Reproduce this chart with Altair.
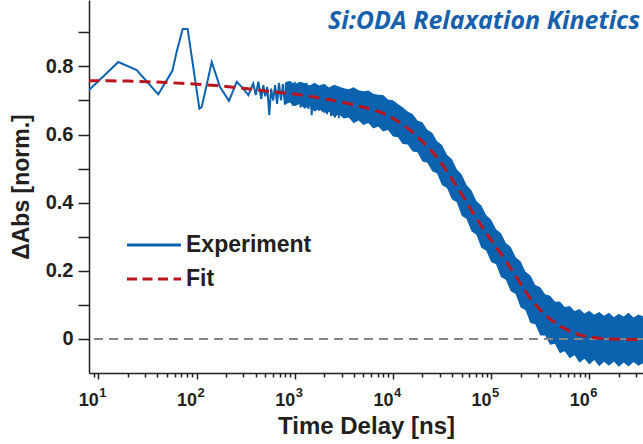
import altair as alt
import pandas as pd

BLUE = "#0b63b0"
RED = "#b8161c"
INK = "#231f20"
TITLE = "Si:ODA Relaxation Kinetics"

# Experiment: sparse early trace and spiky region (time in ns, normalized ΔAbs)
early_t = [8.0, 16.0, 24.6, 40.8, 56.8, 62.8, 72.3, 81.2, 107, 113, 143, 173, 214, 257,
           288, 337, 378, 401, 426, 457, 479, 501, 525, 551, 575, 603, 631, 661, 692,
           724, 759, 794, 832, 871, 912, 955, 1000, 1047, 1096, 1148, 1202, 1259, 1318,
           1380, 1445, 1489, 1549, 1622, 1698, 1778, 1862, 1950, 2042, 2138, 2239, 2344,
           2455, 2570, 2692, 2818]
early_y = [0.730, 0.813, 0.789, 0.718, 0.787, 0.843, 0.910, 0.910, 0.676, 0.681, 0.813,
           0.740, 0.699, 0.755, 0.740, 0.716, 0.750, 0.716, 0.755, 0.705, 0.745, 0.712,
           0.740, 0.657, 0.735, 0.700, 0.745, 0.690, 0.752, 0.700, 0.748, 0.688, 0.755,
           0.700, 0.745, 0.685, 0.755, 0.690, 0.750, 0.680, 0.748, 0.690, 0.752, 0.675,
           0.745, 0.657, 0.745, 0.685, 0.740, 0.670, 0.742, 0.668, 0.738, 0.660, 0.735,
           0.655, 0.735, 0.650, 0.732, 0.648]

# Experiment: dense noisy region, upper and lower envelope of the trace
band_t = [794.3, 891.3, 1000, 1122, 1259, 1413, 1585, 1778, 1995, 2239, 2512, 2818, 3162,
          3548, 3981, 4467, 5012, 5623, 6310, 7079, 7943, 8913,
          10000, 11220, 12590, 14130, 15850, 17780, 19950, 22390, 25120, 28180, 31620,
          35480, 39810, 44670, 50120, 56230, 63100, 70790, 79430, 89130,
          100000, 112200, 125900, 141300, 158500, 177800, 199500, 223900, 251200, 281800,
          316200, 354800, 398100, 446700, 501200, 562300, 631000, 707900, 794300, 891300,
          1000000, 1122000, 1259000, 1413000, 1585000, 1778000, 1995000, 2239000, 2512000,
          2818000, 3162000, 3548000, 3981000]
band_hi = [0.752, 0.758, 0.748, 0.755, 0.751, 0.743, 0.752, 0.744, 0.749, 0.738, 0.746,
           0.741, 0.736, 0.733, 0.739, 0.730, 0.727, 0.729, 0.720, 0.717, 0.716, 0.703,
           0.701, 0.690, 0.680, 0.668, 0.660, 0.641, 0.636, 0.614, 0.605, 0.580, 0.569,
           0.541, 0.528, 0.498, 0.483, 0.452, 0.436, 0.405, 0.392, 0.363,
           0.350, 0.322, 0.310, 0.282, 0.270, 0.240, 0.228, 0.197, 0.186, 0.158, 0.152,
           0.131, 0.127, 0.109, 0.110, 0.094, 0.097, 0.082, 0.088, 0.075,
           0.083, 0.071, 0.079, 0.068, 0.077, 0.064, 0.074, 0.066, 0.077, 0.063, 0.072,
           0.066, 0.070]
band_lo = [0.688, 0.694, 0.683, 0.690, 0.676, 0.684, 0.668, 0.674, 0.663, 0.667, 0.652,
           0.659, 0.647, 0.650, 0.633, 0.641, 0.628, 0.634, 0.618, 0.624, 0.609, 0.613,
           0.594, 0.592, 0.572, 0.571, 0.550, 0.548, 0.521, 0.517, 0.492, 0.486, 0.451,
           0.443, 0.410, 0.401, 0.362, 0.352, 0.316, 0.306, 0.268, 0.259,
           0.226, 0.219, 0.182, 0.174, 0.140, 0.132, 0.092, 0.084, 0.047, 0.043, 0.010,
           0.010, -0.017, -0.014, -0.042, -0.036, -0.057, -0.048, -0.070, -0.058,
           -0.075, -0.062, -0.080, -0.067, -0.079, -0.066, -0.082, -0.069, -0.081, -0.068,
           -0.079, -0.071, -0.078]

# Fit curve
fit_t = [7.943, 10, 12.59, 15.85, 19.95, 25.12, 31.62, 39.81, 50.12, 63.10, 79.43,
         100, 125.9, 158.5, 199.5, 251.2, 316.2, 398.1, 501.2, 631.0, 794.3,
         1000, 1259, 1585, 1995, 2512, 3162, 3981, 5012, 6310, 7943,
         10000, 12590, 15850, 19950, 25120, 31620, 39810, 50120, 63100, 79430,
         100000, 125900, 158500, 199500, 251200, 316200, 398100, 501200, 631000, 794300,
         1000000, 1259000, 1585000, 1995000, 2512000, 3162000, 3981000]
fit_y = [0.758, 0.758, 0.758, 0.757, 0.757, 0.756, 0.755, 0.754, 0.753, 0.751, 0.750,
         0.748, 0.746, 0.744, 0.741, 0.738, 0.735, 0.732, 0.728, 0.725, 0.722,
         0.719, 0.715, 0.710, 0.705, 0.700, 0.694, 0.688, 0.680, 0.673, 0.663,
         0.648, 0.630, 0.607, 0.580, 0.550, 0.513, 0.470, 0.425, 0.378, 0.333,
         0.290, 0.250, 0.207, 0.163, 0.118, 0.085, 0.058, 0.038, 0.023, 0.012,
         0.006, 0.002, 0.000, -0.001, -0.002, -0.002, -0.002]

# Axis ticks and decade exponents
x_ticks = [8, 9, 10, 20, 30, 40, 50, 60, 70, 80, 90, 100, 200, 300, 400, 500, 600, 700,
           800, 900, 1000, 2000, 3000, 4000, 5000, 6000, 7000, 8000, 9000, 10000, 20000,
           30000, 40000, 50000, 60000, 70000, 80000, 90000, 100000, 200000, 300000,
           400000, 500000, 600000, 700000, 800000, 900000, 1000000, 2000000, 3000000]
decades = [10, 100, 1000, 10000, 100000, 1000000]
exponents = ["1", "2", "3", "4", "5", "6"]
y_ticks = [0, 0.1, 0.2, 0.3, 0.4, 0.5, 0.6, 0.7, 0.8, 0.9]

early_df = pd.DataFrame({"t": early_t, "v": early_y})
band_df = pd.DataFrame({"t": band_t, "hi": band_hi, "lo": band_lo})
fit_df = pd.DataFrame({"t": fit_t, "v": fit_y})
exp_df = pd.DataFrame({"t": decades, "e": exponents})

x_scale = alt.Scale(type="log", domain=[8.04, 3.52e6])
y_scale = alt.Scale(domain=[-0.1, 0.995])

major_test = "indexof([10, 100, 1000, 10000, 100000, 1000000], datum.value) >= 0"

x_axis = alt.Axis(
    values=x_ticks, labelExpr=f"{major_test} ? '10' : ''", title="Time Delay [ns]",
    tickSize={"condition": {"test": major_test, "value": 6}, "value": 4},
    tickColor=INK, tickWidth=1.5, domainColor=INK, domainWidth=1.5,
    labelFont="Liberation Sans", labelFontSize=18, labelFontWeight="bold",
    labelColor=INK, labelPadding=12, labelOverlap=False, labelFlush=False,
    labelAlign="right",
    titleFont="Liberation Sans", titleFontSize=24, titleFontWeight="bold",
    titleColor=INK, titlePadding=5, grid=False,
)
y_axis = alt.Axis(
    values=y_ticks, title="ΔAbs [norm.]",
    labelExpr="datum.value == 0 ? '0' : (round(datum.value * 10) % 2 == 0 ? format(datum.value, '.1f') : '')",
    tickSize=11, tickColor=INK, tickWidth=1.5, domainColor=INK, domainWidth=1.5,
    labelFont="Liberation Sans", labelFontSize=20, labelFontWeight="bold",
    labelColor=INK, labelPadding=5, labelOverlap=False,
    titleFont="Liberation Sans", titleFontSize=23, titleFontWeight="bold",
    titleColor=INK, titlePadding=12, grid=False,
)

band = alt.Chart(band_df).mark_area(color=BLUE, opacity=1, clip=True).encode(
    x=alt.X("t:Q", scale=x_scale, axis=x_axis),
    y=alt.Y("hi:Q", scale=y_scale, axis=y_axis),
    y2="lo:Q",
)

early = alt.Chart(early_df).mark_line(color=BLUE, strokeWidth=2, clip=True).encode(
    x=alt.X("t:Q", scale=x_scale),
    y=alt.Y("v:Q", scale=y_scale),
)

zero = alt.Chart(pd.DataFrame({"v": [0]})).mark_rule(
    color="#858585", strokeWidth=2, strokeDash=[9, 6]
).encode(y=alt.Y("v:Q", scale=y_scale))

fit = alt.Chart(fit_df).mark_line(
    color=RED, strokeWidth=3, strokeDash=[11, 6], clip=True
).encode(
    x=alt.X("t:Q", scale=x_scale),
    y=alt.Y("v:Q", scale=y_scale),
)

# decade exponents drawn next to the "10" tick labels
exps = alt.Chart(exp_df).mark_text(
    align="left", baseline="alphabetic", dx=1, font="Liberation Sans",
    fontSize=13, fontWeight="bold", color=INK,
).encode(x=alt.X("t:Q", scale=x_scale), y=alt.value(397), text="e:N")


def legend_entry(label, colour, dash, ypos):
    key = alt.Chart().mark_rule(color=colour, strokeWidth=3, strokeDash=dash).encode(
        x=alt.value(38), x2=alt.value(92), y=alt.value(ypos))
    text = alt.Chart(pd.DataFrame({"label": [label]})).mark_text(
        align="left", baseline="middle", font="Liberation Sans", fontSize=23,
        fontWeight="bold", color=INK,
    ).encode(x=alt.value(97), y=alt.value(ypos), text="label:N")
    return key + text


legend_exp = legend_entry("Experiment", BLUE, [1, 0], 245)
legend_fit = legend_entry("Fit", RED, [10, 5.5], 279)

heading = alt.Chart(pd.DataFrame({"label": [TITLE]})).mark_text(
    align="right", baseline="alphabetic", font="Open Sans", fontSize=25,
    fontStyle="italic", fontWeight="bold", color="#1760ab",
).encode(x=alt.value(551), y=alt.value(29), text="label:N")

chart = alt.layer(
    band, early, zero, fit, exps, legend_exp, legend_fit, heading
).properties(
    width=554, height=373,
    padding={"left": 89, "top": 0, "right": 0, "bottom": 71},
    autosize=alt.AutoSizeParams(type="none"),
).configure_view(stroke=None)

chart.save("out.html", embed_options={"renderer": "svg", "actions": False})
